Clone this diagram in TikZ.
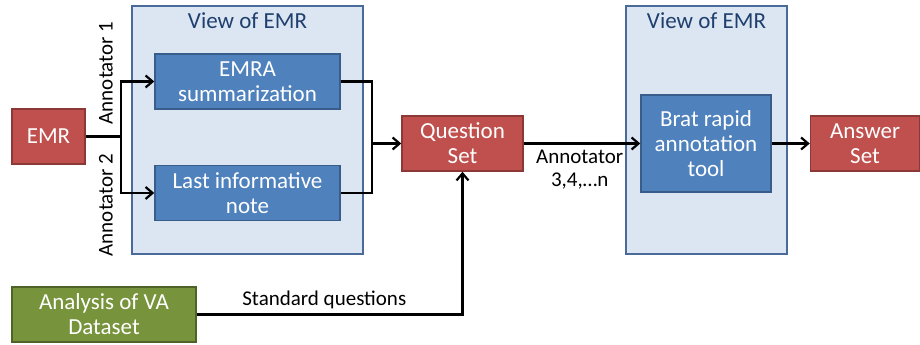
\documentclass[tikz,border=0pt]{standalone}
\usepackage{fontspec}
\setmainfont{Carlito}
\usetikzlibrary{positioning, arrows.meta}
\definecolor{emrred}{HTML}{C0504D}
\definecolor{emrredline}{HTML}{8C3836}
\definecolor{toolblue}{HTML}{4F81BD}
\definecolor{toolblueline}{HTML}{385D8A}
\definecolor{viewfill}{HTML}{DCE6F2}
\definecolor{viewline}{HTML}{4A6B9A}
\definecolor{viewtitle}{HTML}{1F3F6E}
\definecolor{vagreen}{HTML}{77933C}
\definecolor{vagreenline}{HTML}{4F6228}
\tikzset{
  redbox/.style={
    rectangle, draw=emrredline, fill=emrred,
    line width=1.5pt, text=white, align=center,
    font=\fontsize{23}{25}\selectfont,
    minimum height=55pt, inner sep=0pt
  },
  toolbox/.style={
    rectangle, draw=toolblueline, fill=toolblue,
    line width=1.5pt, text=white, align=center,
    font=\fontsize{23}{25}\selectfont,
    minimum width=185pt, minimum height=55pt, inner sep=0pt
  },
  viewbox/.style={
    rectangle, draw=viewline, fill=viewfill,
    line width=1.5pt,
    minimum width=231pt, minimum height=248pt, inner sep=0pt
  },
  viewtitle/.style={
    text=viewtitle, font=\fontsize{23}{25}\selectfont
  },
  greenbox/.style={
    rectangle, draw=vagreenline, fill=vagreen,
    line width=1.5pt, text=white, align=center,
    font=\fontsize{23}{25}\selectfont,
    minimum width=184pt, minimum height=55pt, inner sep=0pt
  },
  lbl/.style={font=\fontsize{21}{23}\selectfont, align=center},
  link/.style={line width=2.2pt},
  arrow/.style={line width=2.2pt, -{Straight Barb[length=7pt, width=12pt]}}
}

\begin{document}
\begin{tikzpicture}[x=1pt, y=1pt]
\useasboundingbox (0,0) rectangle (920,345);

% ==============================================================================
% Left view of the EMR
% ==============================================================================
\node[viewbox] (view1) at (247.5,215) {};
\node[viewtitle, below=4pt of view1.north] (view1title) {View of EMR};

\node[toolbox] (emra) at (247.5,263.5) {EMRA\\summarization};
\node[toolbox, below=55pt of emra] (lastnote) {Last informative\\note};

% ==============================================================================
% Inputs
% ==============================================================================
\node[redbox, minimum width=73pt] (emr) at (48.5,208.5) {EMR};
\node[greenbox] (vadata) at (104,30.5) {Analysis of VA\\Dataset};

% ==============================================================================
% Question set and right view
% ==============================================================================
\node[redbox, minimum width=121pt] (qset) at (462.5,201.5) {Question\\Set};

\node[viewbox, minimum width=161pt] (view2) at (706.5,215) {};
\node[viewtitle, below=4pt of view2.north] (view2title) {View of EMR};

\node[toolbox, minimum width=130pt, minimum height=97pt] (brat) at (706,201.5)
  {Brat rapid\\annotation\\tool};

\node[redbox, minimum width=109pt, right=38pt of brat] (aset) {Answer\\Set};

% ==============================================================================
% Arrows
% ==============================================================================
\coordinate (split) at ([xshift=35pt]emr.east);
\coordinate (join) at ([xshift=31pt]emra.east);

\draw[link] (emr.east) -- (split);
\draw[arrow] (split) |- (emra.west);
\draw[arrow] (split) |- (lastnote.west);
\node[lbl, rotate=90] (ann1) at (106,272) {Annotator 1};
\node[lbl, rotate=90] (ann2) at (106,140) {Annotator 2};

\draw[link] (emra.east) -| (join |- lastnote.east) -- (lastnote.east);
\draw[arrow] (join |- qset.west) -- (qset.west);

\draw[arrow] (qset.east) -- (brat.west)
  node[lbl, pos=0.48, below=2pt] (ann3) {Annotator\\3,4,\ldots n};
\draw[arrow] (brat.east) -- (aset.west);

\draw[arrow] (vadata.east) -| (qset.south)
  node[lbl, pos=0.24, above=1pt] (stdq) {Standard questions};

\end{tikzpicture}
\end{document}
